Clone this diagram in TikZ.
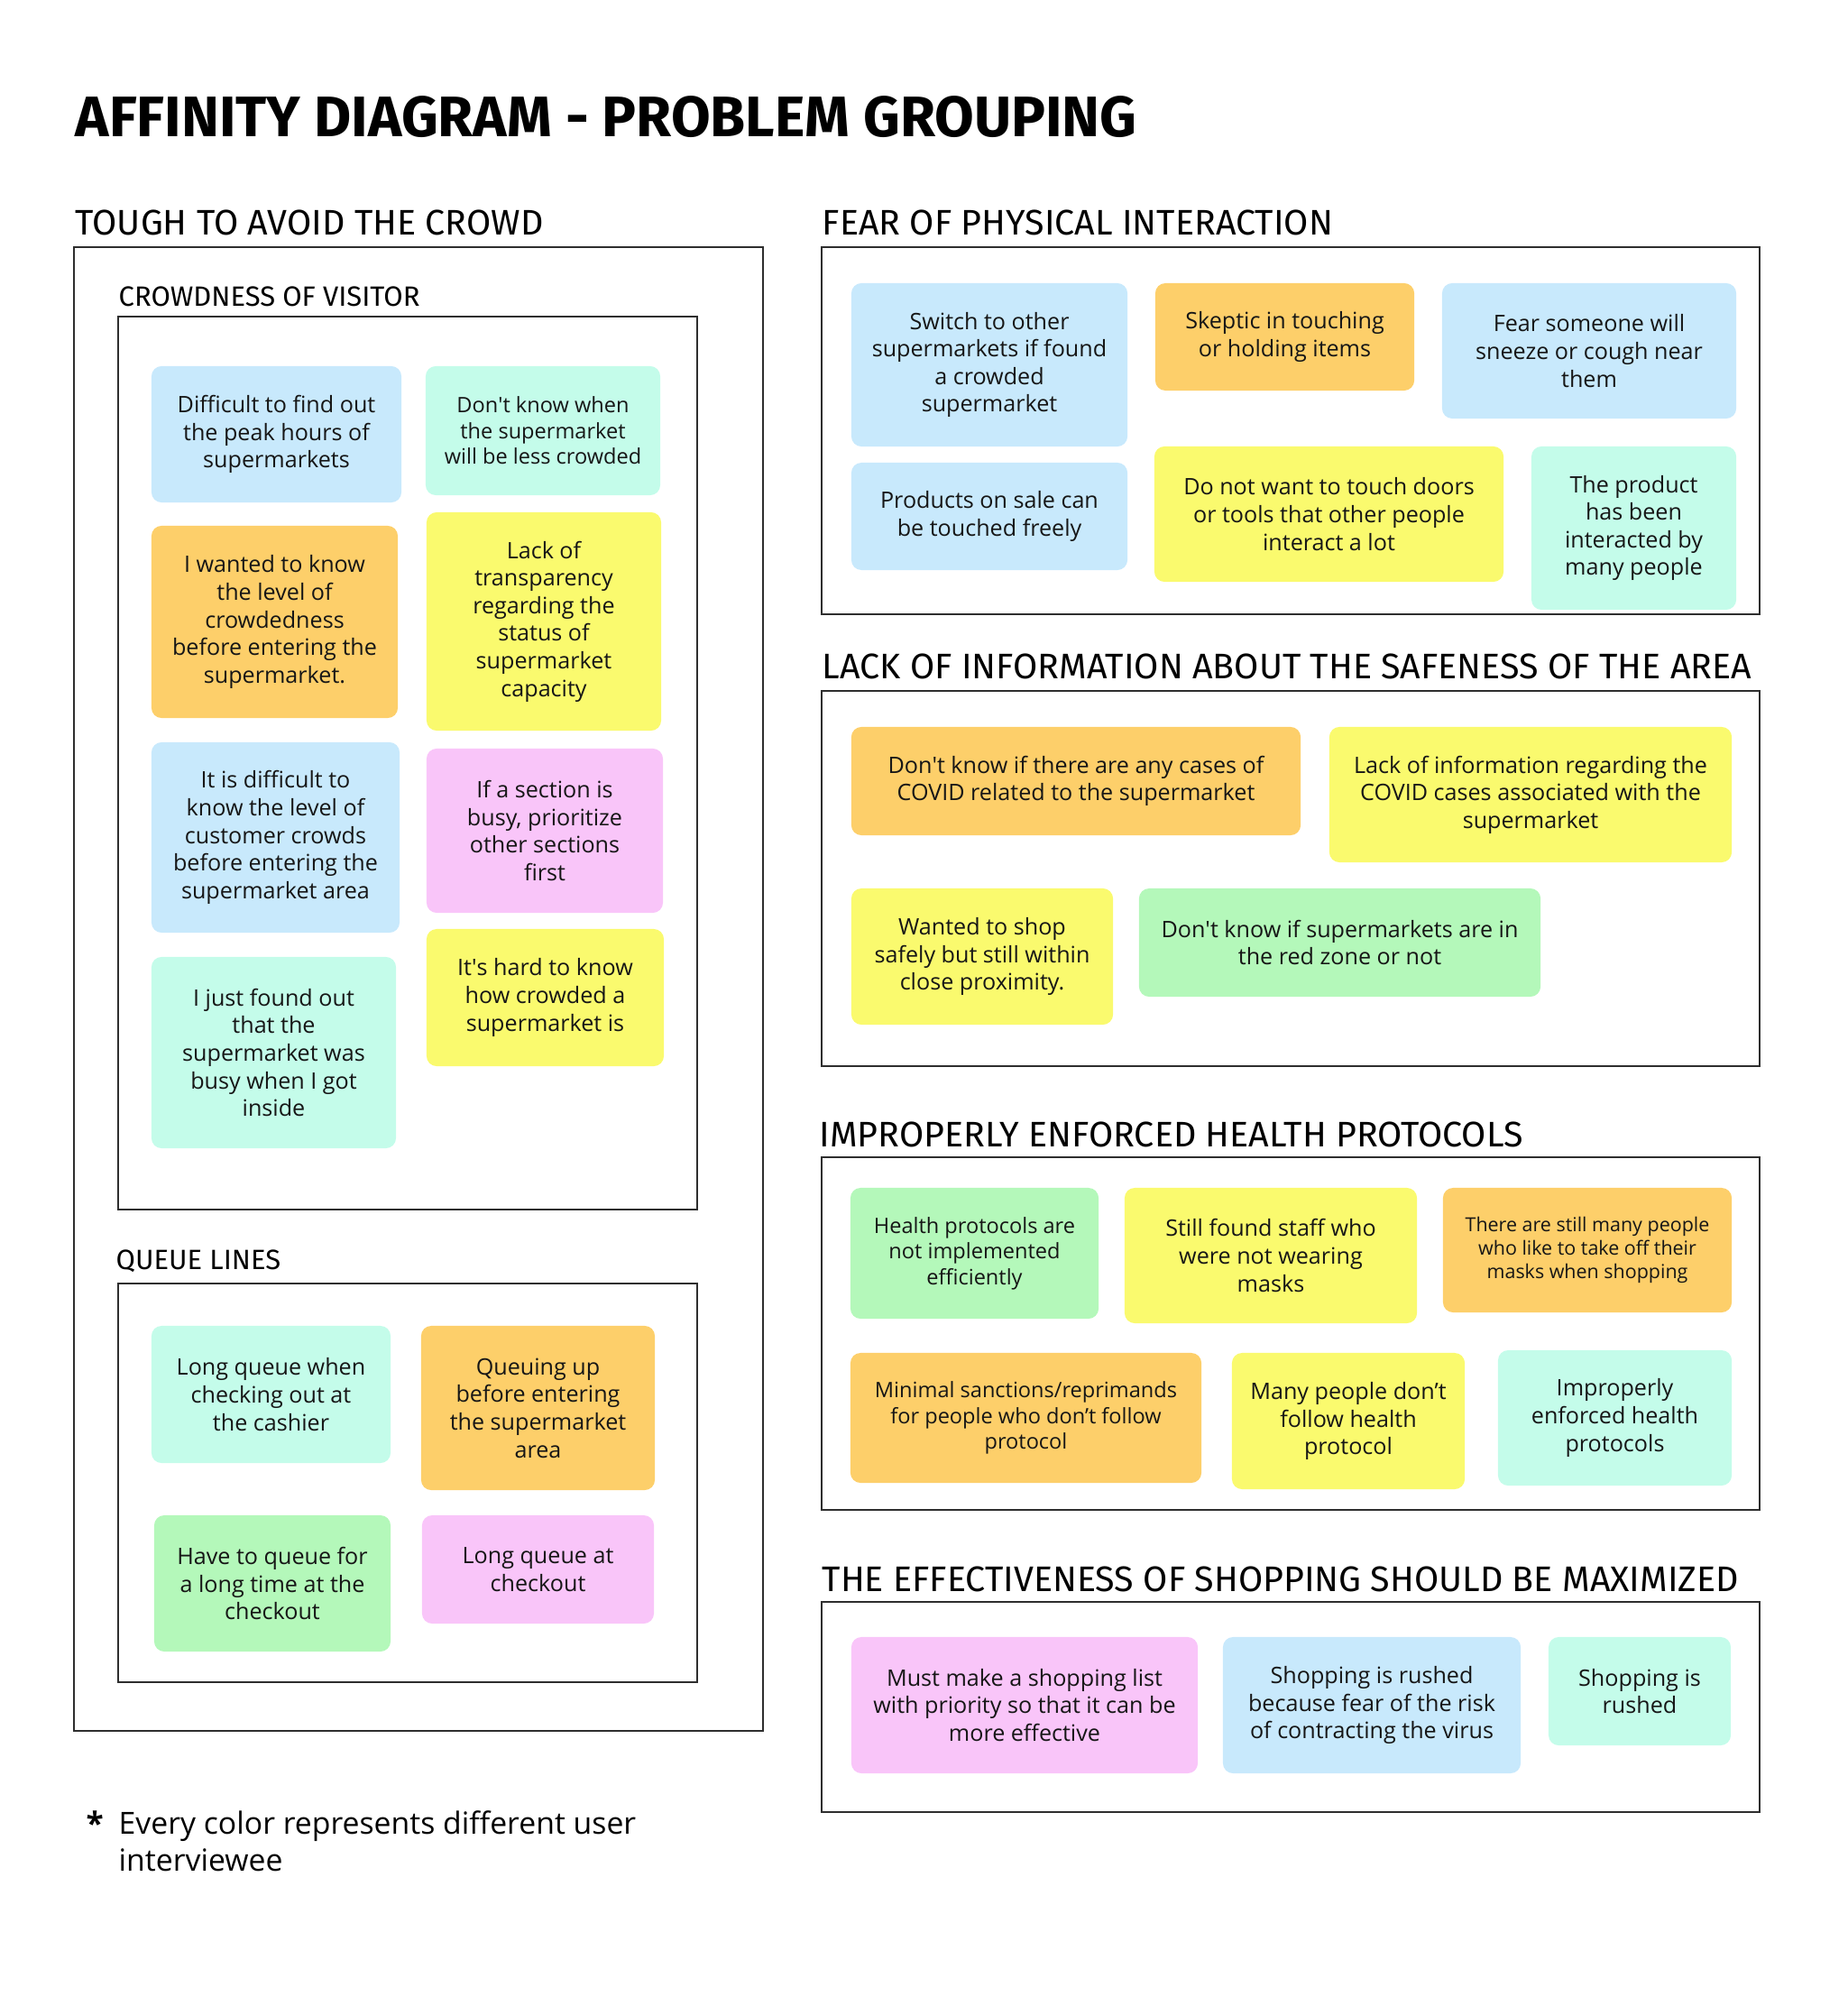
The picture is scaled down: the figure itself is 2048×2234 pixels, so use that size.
\documentclass[tikz,border=0pt]{standalone}
\usepackage{fontspec}
\setmainfont{Open Sans}
\newfontfamily\headfont{Fira Sans}
\newcommand{\aps}{\textquotesingle}
\definecolor{affblue}{HTML}{C8E9FC}
\definecolor{affmint}{HTML}{C4FCEA}
\definecolor{afforange}{HTML}{FDCF6A}
\definecolor{affyellow}{HTML}{FAFA6E}
\definecolor{affpink}{HTML}{F9C5F9}
\definecolor{affgreen}{HTML}{B4F8BA}
\definecolor{affink}{HTML}{161616}
\definecolor{affline}{HTML}{2E2E2E}
\tikzset{
  note/.style={rounded corners=3.2pt, align=center, inner sep=2pt, text=affink, font=\fontsize{7.15}{8.7}\selectfont},
  nsm/.style={note, font=\fontsize{6.7}{8.1}\selectfont},
  nxs/.style={note, font=\fontsize{6.1}{7.5}\selectfont},
  frm/.style={draw=affline, line width=0.6pt},
  hd/.style={anchor=base west, inner sep=0pt, text=black, font=\headfont\fontsize{11.2}{13}\selectfont},
  sub/.style={anchor=base west, inner sep=0pt, text=black, font=\headfont\fontsize{8.8}{10}\selectfont},
}

\begin{document}
\begin{tikzpicture}[x=0.01cm, y=-0.01cm]
  \useasboundingbox (0,0) rectangle (2048,2234);
  \node[anchor=base west, inner sep=0pt, font=\headfont\bfseries\fontsize{18}{20}\selectfont] (title) at (83,152) {AFFINITY DIAGRAM - PROBLEM GROUPING};

  % left column
  \node[hd] (tough) at (83,261) {TOUGH TO AVOID THE CROWD};
  \draw[frm] (82,274) rectangle (846,1919);
  \node[sub] (crowd) at (131,340) {CROWDNESS OF VISITOR};
  \draw[frm] (131,351) rectangle (773,1341);
  \node[note, fill=affblue, minimum width=2.77cm, minimum height=1.51cm] (n1) at (306.5,481.5) {Difficult to find out\\the peak hours of\\supermarkets};
  \node[nsm, fill=affmint, minimum width=2.60cm, minimum height=1.43cm] (n2) at (602,477.5) {Don\aps t know when\\the supermarket\\will be less crowded};
  \node[note, fill=afforange, minimum width=2.73cm, minimum height=2.13cm] (n3) at (304.5,689.5) {I wanted to know\\the level of\\crowdedness\\before entering the\\supermarket.};
  \node[note, fill=affyellow, minimum width=2.60cm, minimum height=2.42cm] (n4) at (603,689) {Lack of\\transparency\\regarding the\\status of\\supermarket\\capacity};
  \node[note, fill=affblue, minimum width=2.75cm, minimum height=2.11cm] (n5) at (305.5,928.5) {It is difficult to\\know the level of\\customer crowds\\before entering the\\supermarket area};
  \node[note, fill=affpink, minimum width=2.62cm, minimum height=1.82cm] (n6) at (604,921) {If a section is\\busy, prioritize\\other sections\\first};
  \node[note, fill=affmint, minimum width=2.71cm, minimum height=2.12cm] (n7) at (303.5,1167) {I just found out\\that the\\supermarket was\\busy when I got\\inside};
  \node[note, fill=affyellow, minimum width=2.63cm, minimum height=1.52cm] (n8) at (604.5,1106) {It\aps s hard to know\\how crowded a\\supermarket is};

  \node[sub] (queue) at (128,1407) {QUEUE LINES};
  \draw[frm] (131,1423) rectangle (773,1865);
  \node[note, fill=affmint, minimum width=2.65cm, minimum height=1.52cm] (q1) at (300.5,1546) {Long queue when\\checking out at\\the cashier};
  \node[note, fill=afforange, minimum width=2.59cm, minimum height=1.82cm] (q2) at (596.5,1561) {Queuing up\\before entering\\the supermarket\\area};
  \node[note, fill=affgreen, minimum width=2.62cm, minimum height=1.51cm] (q3) at (302,1755.5) {Have to queue for\\a long time at the\\checkout};
  \node[note, fill=affpink, minimum width=2.57cm, minimum height=1.20cm] (q4) at (596.5,1740) {Long queue at\\checkout};

  % right column
  \node[hd] (fear) at (911,261) {FEAR OF PHYSICAL INTERACTION};
  \draw[frm] (911,274) rectangle (1951,681);
  \node[note, fill=affblue, minimum width=3.06cm, minimum height=1.81cm] (f1) at (1097,404.5) {Switch to other\\supermarkets if found\\a crowded\\supermarket};
  \node[note, fill=afforange, minimum width=2.87cm, minimum height=1.19cm] (f2) at (1424.5,373.5) {Skeptic in touching\\or holding items};
  \node[note, fill=affblue, minimum width=3.26cm, minimum height=1.50cm] (f3) at (1762,389) {Fear someone will\\sneeze or cough near\\them};
  \node[note, fill=affblue, minimum width=3.06cm, minimum height=1.19cm] (f4) at (1097,572.5) {Products on sale can\\be touched freely};
  \node[note, fill=affyellow, minimum width=3.87cm, minimum height=1.50cm] (f5) at (1473.5,570) {Do not want to touch doors\\or tools that other people\\interact a lot};
  \node[note, fill=affmint, minimum width=2.27cm, minimum height=1.81cm] (f6) at (1811.5,585.5) {The product\\has been\\interacted by\\many people};

  \node[hd] (lack) at (911,752) {LACK OF INFORMATION ABOUT THE SAFENESS OF THE AREA};
  \draw[frm] (911,766) rectangle (1951,1182);
  \node[note, fill=afforange, minimum width=4.98cm, minimum height=1.20cm] (l1) at (1193,866) {Don\aps t know if there are any cases of\\COVID related to the supermarket};
  \node[note, fill=affyellow, minimum width=4.46cm, minimum height=1.50cm] (l2) at (1697,881) {Lack of information regarding the\\COVID cases associated with the\\supermarket};
  \node[note, fill=affyellow, minimum width=2.90cm, minimum height=1.51cm] (l3) at (1089,1060.5) {Wanted to shop\\safely but still within\\close proximity.};
  \node[note, fill=affgreen, minimum width=4.45cm, minimum height=1.20cm] (l4) at (1485.5,1045) {Don\aps t know if supermarkets are in\\the red zone or not};

  \node[hd] (improp) at (908,1271) {IMPROPERLY ENFORCED HEALTH PROTOCOLS};
  \draw[frm] (911,1283) rectangle (1951,1674);
  \node[nsm, fill=affgreen, minimum width=2.75cm, minimum height=1.45cm] (h1) at (1080.5,1389.5) {Health protocols are\\not implemented\\efficiently};
  \node[note, fill=affyellow, minimum width=3.24cm, minimum height=1.50cm] (h2) at (1409,1392) {Still found staff who\\were not wearing\\masks};
  \node[nxs, fill=afforange, minimum width=3.20cm, minimum height=1.38cm] (h3) at (1760,1386) {There are still many people\\who like to take off their\\masks when shopping};
  \node[nsm, fill=afforange, minimum width=3.89cm, minimum height=1.44cm] (h4) at (1137.5,1572) {Minimal sanctions/reprimands\\for people who don’t follow\\protocol};
  \node[note, fill=affyellow, minimum width=2.58cm, minimum height=1.51cm] (h5) at (1495,1575.5) {Many people don’t\\follow health\\protocol};
  \node[note, fill=affmint, minimum width=2.59cm, minimum height=1.50cm] (h6) at (1790.5,1572) {Improperly\\enforced health\\protocols};

  \node[hd] (effect) at (911,1764) {THE EFFECTIVENESS OF SHOPPING SHOULD BE MAXIMIZED};
  \draw[frm] (911,1776) rectangle (1951,2009);
  \node[note, fill=affpink, minimum width=3.84cm, minimum height=1.51cm] (e1) at (1136,1890.5) {Must make a shopping list\\with priority so that it can be\\more effective};
  \node[note, fill=affblue, minimum width=3.30cm, minimum height=1.51cm] (e2) at (1521,1890.5) {Shopping is rushed\\because fear of the risk\\of contracting the virus};
  \node[note, fill=affmint, minimum width=2.02cm, minimum height=1.20cm] (e3) at (1818,1875) {Shopping is\\rushed};

  % footnote
  \node[anchor=base west, inner sep=0pt, font=\bfseries\fontsize{10}{11.4}\selectfont] (star) at (95,2034) {*};
  \node[anchor=base west, inner sep=0pt, align=left, font=\fontsize{9.6}{11.4}\selectfont] (foot) at (131,2074) {Every color represents different user\\interviewee};
\end{tikzpicture}
\end{document}
